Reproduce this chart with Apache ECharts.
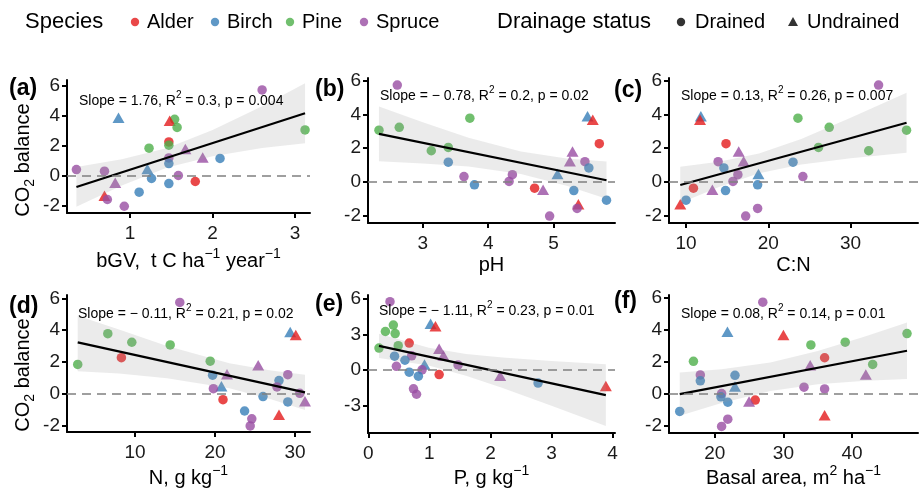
<!DOCTYPE html>
<html><head><meta charset="utf-8">
<script src="https://cdn.jsdelivr.net/npm/echarts@6/dist/echarts.min.js"></script>
<style>html,body{margin:0;padding:0;background:#fff}#c{width:920px;height:490px}</style>
</head><body><div id="c"></div>
<script>
// ---- data (one entry per site) ----
const species = ['Spruce','Birch','Pine','Alder','Pine','Pine','Alder','Pine','Pine','Spruce','Spruce','Spruce','Birch','Birch','Birch','Spruce','Spruce','Spruce','Birch','Alder','Spruce','Birch','Birch','Alder','Spruce','Spruce'];
const drainage = ['Drained','Undrained','Drained','Undrained','Drained','Drained','Drained','Drained','Drained','Undrained','Undrained','Drained','Drained','Drained','Undrained','Drained','Drained','Drained','Drained','Drained','Undrained','Drained','Drained','Undrained','Drained','Drained'];
const co2Balance = [5.74,3.89,3.78,3.69,3.24,3.07,2.27,2.05,1.85,1.80,1.23,1.20,1.17,0.83,0.47,0.43,0.32,0.03,-0.17,-0.37,-0.46,-0.51,-1.08,-1.32,-1.57,-2.02];
const bgv = [2.60,0.86,1.54,1.48,1.57,3.12,1.47,1.47,1.23,1.67,1.88,1.47,2.09,1.47,1.21,0.35,0.69,1.585,1.26,1.79,0.82,1.47,1.11,0.69,0.725,0.93];
const ph = [2.61,5.52,3.72,5.60,2.64,2.33,5.70,3.39,3.13,5.29,5.25,5.48,3.39,5.54,5.06,4.37,3.63,4.32,3.79,4.71,4.84,5.31,5.81,5.38,5.36,4.94];
const cn = [33.4,11.8,23.6,11.7,27.4,36.8,14.86,26.1,32.2,16.4,17.0,13.9,23.0,14.6,18.8,16.3,24.2,15.7,18.7,10.9,13.2,14.8,10.0,9.3,18.7,17.25];
const nitrogen = [15.6,29.4,6.6,30.1,9.6,14.4,8.3,19.4,2.84,25.4,21.5,29.1,19.7,28.0,20.8,27.75,19.8,30.6,26.0,21.0,31.25,29.1,23.7,28.0,24.6,24.4];
const phosphorus = [0.355,1.02,0.41,1.10,0.28,0.44,0.67,0.49,0.175,1.16,1.23,0.71,0.43,0.60,0.92,1.47,0.46,0.88,0.67,1.16,2.16,0.82,2.78,3.89,0.74,0.79];
const basalArea = [27,21.85,48,30,39,34,36,16.9,43,33.9,42,17.9,22.95,17.9,22.95,33,36,21,20.9,25.9,25,21.9,14.9,36,21.9,21];

// tick labels
const co2Ticks = [-2,0,2,4,6];
const co2TicksP = [-3,0,3,6];
const bgvTicks = [1,2,3];
const phTicks = [3,4,5];
const cnTicks = [10,20,30];
const nTicks = [10,20,30];
const pTicks = [0,1,2,3,4];
const basalTicks = [20,30,40];

// fitted lines (end points) and confidence bands
const fitBgvX = [0.35,3.12], fitBgvY = [-0.74,4.18];
const bandBgvX = [0.35,0.9,1.45,2.0,2.6,3.12], bandBgvLo = [-2.06,-0.63,0.56,1.32,1.87,2.18], bandBgvHi = [0.60,1.11,1.86,3.06,4.65,6.18];
const fitPhX = [2.33,5.81], fitPhY = [2.85,0.10];
const bandPhX = [2.33,3.0,3.7,4.5,5.2,5.81], bandPhLo = [1.23,1.10,0.92,0.48,-0.23,-0.99], bandPhHi = [4.47,3.54,2.62,1.80,1.39,1.21];
const fitCnX = [9.3,36.8], fitCnY = [-0.18,3.51];
const bandCnX = [9.3,14,18.87,24,30,36.8], bandCnLo = [-1.25,-0.30,0.51,1.03,1.40,1.73], bandCnHi = [0.90,1.20,1.69,2.55,3.80,5.29];
const fitNX = [2.84,31.25], fitNY = [3.23,0.09];
const bandNX = [2.84,8,14,21.8,27,31.25], bandNLo = [1.42,1.28,0.98,0.35,-0.34,-1.02], bandNHi = [4.90,4.04,3.01,1.92,1.46,1.20];
const fitPX = [0.175,3.89], fitPY = [2.04,-2.10];
const bandPX = [0.175,0.99,1.6,2.2,3.0,3.89], bandPLo = [1.02,0.39,-0.46,-1.49,-2.98,-4.69], bandPHi = [3.06,1.87,1.36,1.06,0.76,0.49];
const fitBaX = [14.9,48], fitBaY = [0.0,2.71];
const bandBaX = [14.9,21,28.1,35,42,48], bandBaLo = [-1.35,-0.55,0.19,0.61,0.83,0.94], bandBaHi = [1.35,1.55,1.98,2.69,3.61,4.48];

const speciesNames = ['Alder','Birch','Pine','Spruce'];
const drainageNames = ['Drained','Undrained'];

// ---- layout / style ----
const colorOf = {Alder:'#E41A1C', Birch:'#377EB8', Pine:'#4DAF4A', Spruce:'#984EA3'};
const FONT = '"Liberation Sans", Arial, Helvetica, sans-serif';

const panels = [
  {tag:'(a)', x:bgv, xt:bgvTicks, yt:co2Ticks, g:{left:67,top:80,width:243,height:133}, xr:[0.236,3.18], yr:[-2.47,6.4],
   fx:fitBgvX, fy:fitBgvY, bx:bandBgvX, blo:bandBgvLo, bhi:bandBgvHi,
   stat:'{t|Slope = 1.76, R}{s|2}{t| = 0.3, p = 0.004}', statPos:[79,99],
   xTitle:'{n|bGV,  t C ha}{s|\u22121}{n| year}{s|\u22121}', xTitleY:259, yTitleY:160, tagPos:[9,89]},
  {tag:'(b)', x:ph, xt:phTicks, yt:co2Ticks, g:{left:368,top:78,width:247,height:145}, xr:[2.162,5.94], yr:[-2.43,6.16],
   fx:fitPhX, fy:fitPhY, bx:bandPhX, blo:bandPhLo, bhi:bandPhHi,
   stat:'{t|Slope = \u2212 0.78, R}{s|2}{t| = 0.2, p = 0.02}', statPos:[380,94],
   xTitle:'{n|pH}', xTitleY:263, tagPos:[315,90]},
  {tag:'(c)', x:cn, xt:cnTicks, yt:co2Ticks, g:{left:669,top:78,width:249,height:145}, xr:[7.93,38.19], yr:[-2.43,6.16],
   fx:fitCnX, fy:fitCnY, bx:bandCnX, blo:bandCnLo, bhi:bandCnHi,
   stat:'{t|Slope = 0.13, R}{s|2}{t| = 0.26, p = 0.007}', statPos:[681,94],
   xTitle:'{n|C:N}', xTitleY:263, tagPos:[614,91]},
  {tag:'(d)', x:nitrogen, xt:nTicks, yt:co2Ticks, g:{left:67,top:295,width:243,height:137}, xr:[1.5,31.875], yr:[-2.40,6.21],
   fx:fitNX, fy:fitNY, bx:bandNX, blo:bandNLo, bhi:bandNHi,
   stat:'{t|Slope = \u2212 0.11, R}{s|2}{t| = 0.21, p = 0.02}', statPos:[78,312],
   xTitle:'{n|N, g kg}{s|\u22121}', xTitleY:476, yTitleY:375, tagPos:[9,307]},
  {tag:'(e)', x:phosphorus, xt:pTicks, yt:co2TicksP, g:{left:368,top:295,width:247,height:138}, xr:[-0.005,4.04], yr:[-5.27,6.3],
   fx:fitPX, fy:fitPY, bx:bandPX, blo:bandPLo, bhi:bandPHi,
   stat:'{t|Slope = \u2212 1.11, R}{s|2}{t| = 0.23, p = 0.01}', statPos:[379,309],
   xTitle:'{n|P, g kg}{s|\u22121}', xTitleY:476, tagPos:[315,305]},
  {tag:'(f)', x:basalArea, xt:basalTicks, yt:co2Ticks, g:{left:669,top:295,width:249,height:138}, xr:[13.34,49.6], yr:[-2.43,6.19],
   fx:fitBaX, fy:fitBaY, bx:bandBaX, blo:bandBaLo, bhi:bandBaHi,
   stat:'{t|Slope = 0.08, R}{s|2}{t| = 0.14, p = 0.01}', statPos:[681,312],
   xTitle:'{n|Basal area, m}{s|2}{n| ha}{s|\u22121}', xTitleY:476, tagPos:[614,302]}
];

const grids = [], xAxes = [], yAxes = [], series = [], graphics = [];
const axisLine = {show:true, onZero:false, lineStyle:{color:'#000', width:2}};
const axisTick = (vals)=>({show:true, inside:false, length:5, lineStyle:{color:'#000', width:2}, customValues:vals});
const axisLabel = (vals, m)=>({show:true, color:'#1a1a1a', fontSize:19, fontFamily:FONT, margin:m, customValues:vals});

panels.forEach((p, i) => {
  grids.push(Object.assign({containLabel:false, outerBoundsMode:'none'}, p.g));
  xAxes.push({type:'value', gridIndex:i, min:p.xr[0], max:p.xr[1], axisLine, axisTick:axisTick(p.xt), axisLabel:axisLabel(p.xt, 11), splitLine:{show:false}});
  yAxes.push({type:'value', gridIndex:i, min:p.yr[0], max:p.yr[1], axisLine, axisTick:axisTick(p.yt), axisLabel:axisLabel(p.yt, 7), splitLine:{show:false}});
  // zero reference line
  series.push({type:'line', xAxisIndex:i, yAxisIndex:i, data:[], z:1, silent:true,
    markLine:{silent:true, symbol:['none','none'], label:{show:false}, animation:false,
      lineStyle:{color:'#808080', width:1.6, type:[9,6]}, data:[{yAxis:0}]}});
  // points
  series.push({type:'scatter', xAxisIndex:i, yAxisIndex:i, z:2, silent:true,
    data: p.x.map((v, k) => ({
      value:[v, co2Balance[k]],
      symbol: drainage[k] === 'Drained' ? 'circle' : 'triangle',
      symbolSize: drainage[k] === 'Drained' ? 9.5 : [12, 10.5],
      itemStyle:{color:colorOf[species[k]], opacity:0.8}
    }))});
  // confidence band
  series.push({type:'custom', xAxisIndex:i, yAxisIndex:i, z:3, silent:true,
    data: p.bx.map((x, k) => [x, p.blo[k], p.bhi[k]]),
    encode:{x:0, y:[1,2]},
    renderItem:(params, api) => {
      if (params.dataIndex !== 0) return null;
      const pts = [];
      for (let k = 0; k < p.bx.length; k++) pts.push(api.coord([p.bx[k], p.bhi[k]]));
      for (let k = p.bx.length - 1; k >= 0; k--) pts.push(api.coord([p.bx[k], p.blo[k]]));
      return {type:'polygon', shape:{points:pts, smooth:0}, style:{fill:'rgba(153,153,153,0.2)', stroke:null}};
    }});
  // fitted line
  series.push({type:'line', xAxisIndex:i, yAxisIndex:i, z:4, silent:true, symbol:'none',
    data: p.fx.map((x, k) => [x, p.fy[k]]), lineStyle:{color:'#000', width:2.2}});

  // texts
  graphics.push({type:'text', x:p.statPos[0], y:p.statPos[1], silent:true, z:10,
    style:{text:p.stat, align:'left', verticalAlign:'middle', textAlign:'left', textVerticalAlign:'middle', fill:'#000', font:'14px '+FONT,
      rich:{t:{fontSize:14, fontFamily:FONT, lineHeight:18, verticalAlign:'bottom', fill:'#000', color:'#000'},
            s:{fontSize:10, fontFamily:FONT, lineHeight:10, verticalAlign:'top', fill:'#000', color:'#000'}}}});
  graphics.push({type:'text', x:p.tagPos[0], y:p.tagPos[1], silent:true, z:10,
    style:{text:p.tag, align:'left', verticalAlign:'middle', textAlign:'left', textVerticalAlign:'middle', fill:'#000', font:'bold 23px '+FONT}});
  graphics.push({type:'text', x:p.g.left + p.g.width/2, y:p.xTitleY, silent:true, z:10,
    style:{text:p.xTitle, align:'center', verticalAlign:'middle', textAlign:'center', textVerticalAlign:'middle', fill:'#000', font:'20px '+FONT,
      rich:{n:{fontSize:20, fontFamily:FONT, lineHeight:24, verticalAlign:'bottom', fill:'#000', color:'#000'},
            s:{fontSize:14, fontFamily:FONT, lineHeight:14, verticalAlign:'top', fill:'#000', color:'#000'}}}});
  if (p.yTitleY) {
    graphics.push({type:'text', x:25, y:p.yTitleY, rotation:Math.PI/2, silent:true, z:10,
      style:{text:'{n|CO}{b|2}{n| balance}', align:'center', verticalAlign:'middle', textAlign:'center', textVerticalAlign:'middle', fill:'#000', font:'20px '+FONT,
        rich:{n:{fontSize:20, fontFamily:FONT, lineHeight:24, verticalAlign:'top', fill:'#000', color:'#000'},
              b:{fontSize:14, fontFamily:FONT, lineHeight:14, verticalAlign:'bottom', fill:'#000', color:'#000'}}}});
  }
});

// ---- legend (drawn as graphics) ----
const legY = 22;
graphics.push({type:'text', x:25, y:legY, silent:true, style:{text:'Species', align:'left', verticalAlign:'middle', textAlign:'left', textVerticalAlign:'middle', fill:'#000', font:'22px '+FONT}});
const spX = [135, 215, 290, 364];
speciesNames.forEach((s, k) => {
  graphics.push({type:'circle', silent:true, shape:{cx:spX[k], cy:legY, r:4.2}, style:{fill:colorOf[s], opacity:0.8}});
  graphics.push({type:'text', x:spX[k] + 12, y:legY, silent:true, style:{text:s, align:'left', verticalAlign:'middle', textAlign:'left', textVerticalAlign:'middle', fill:'#000', font:'20px '+FONT}});
});
graphics.push({type:'text', x:497, y:legY, silent:true, style:{text:'Drainage status', align:'left', verticalAlign:'middle', textAlign:'left', textVerticalAlign:'middle', fill:'#000', font:'22px '+FONT}});
const drX = [681, 793];
graphics.push({type:'circle', silent:true, shape:{cx:drX[0], cy:legY, r:4.2}, style:{fill:'#333'}});
graphics.push({type:'polygon', silent:true, shape:{points:[[drX[1]-5, legY+4],[drX[1]+5, legY+4],[drX[1], legY-5]]}, style:{fill:'#333'}});
drainageNames.forEach((d, k) => {
  graphics.push({type:'text', x:drX[k] + 14, y:legY, silent:true, style:{text:d, align:'left', verticalAlign:'middle', textAlign:'left', textVerticalAlign:'middle', fill:'#000', font:'20px '+FONT}});
});

const chart = echarts.init(document.getElementById('c'), null, {renderer:'canvas'});
chart.setOption({
  backgroundColor:'#fff',
  animation:false,
  textStyle:{fontFamily:FONT},
  grid:grids, xAxis:xAxes, yAxis:yAxes, series, graphic:{elements:graphics}
});
</script></body></html>
